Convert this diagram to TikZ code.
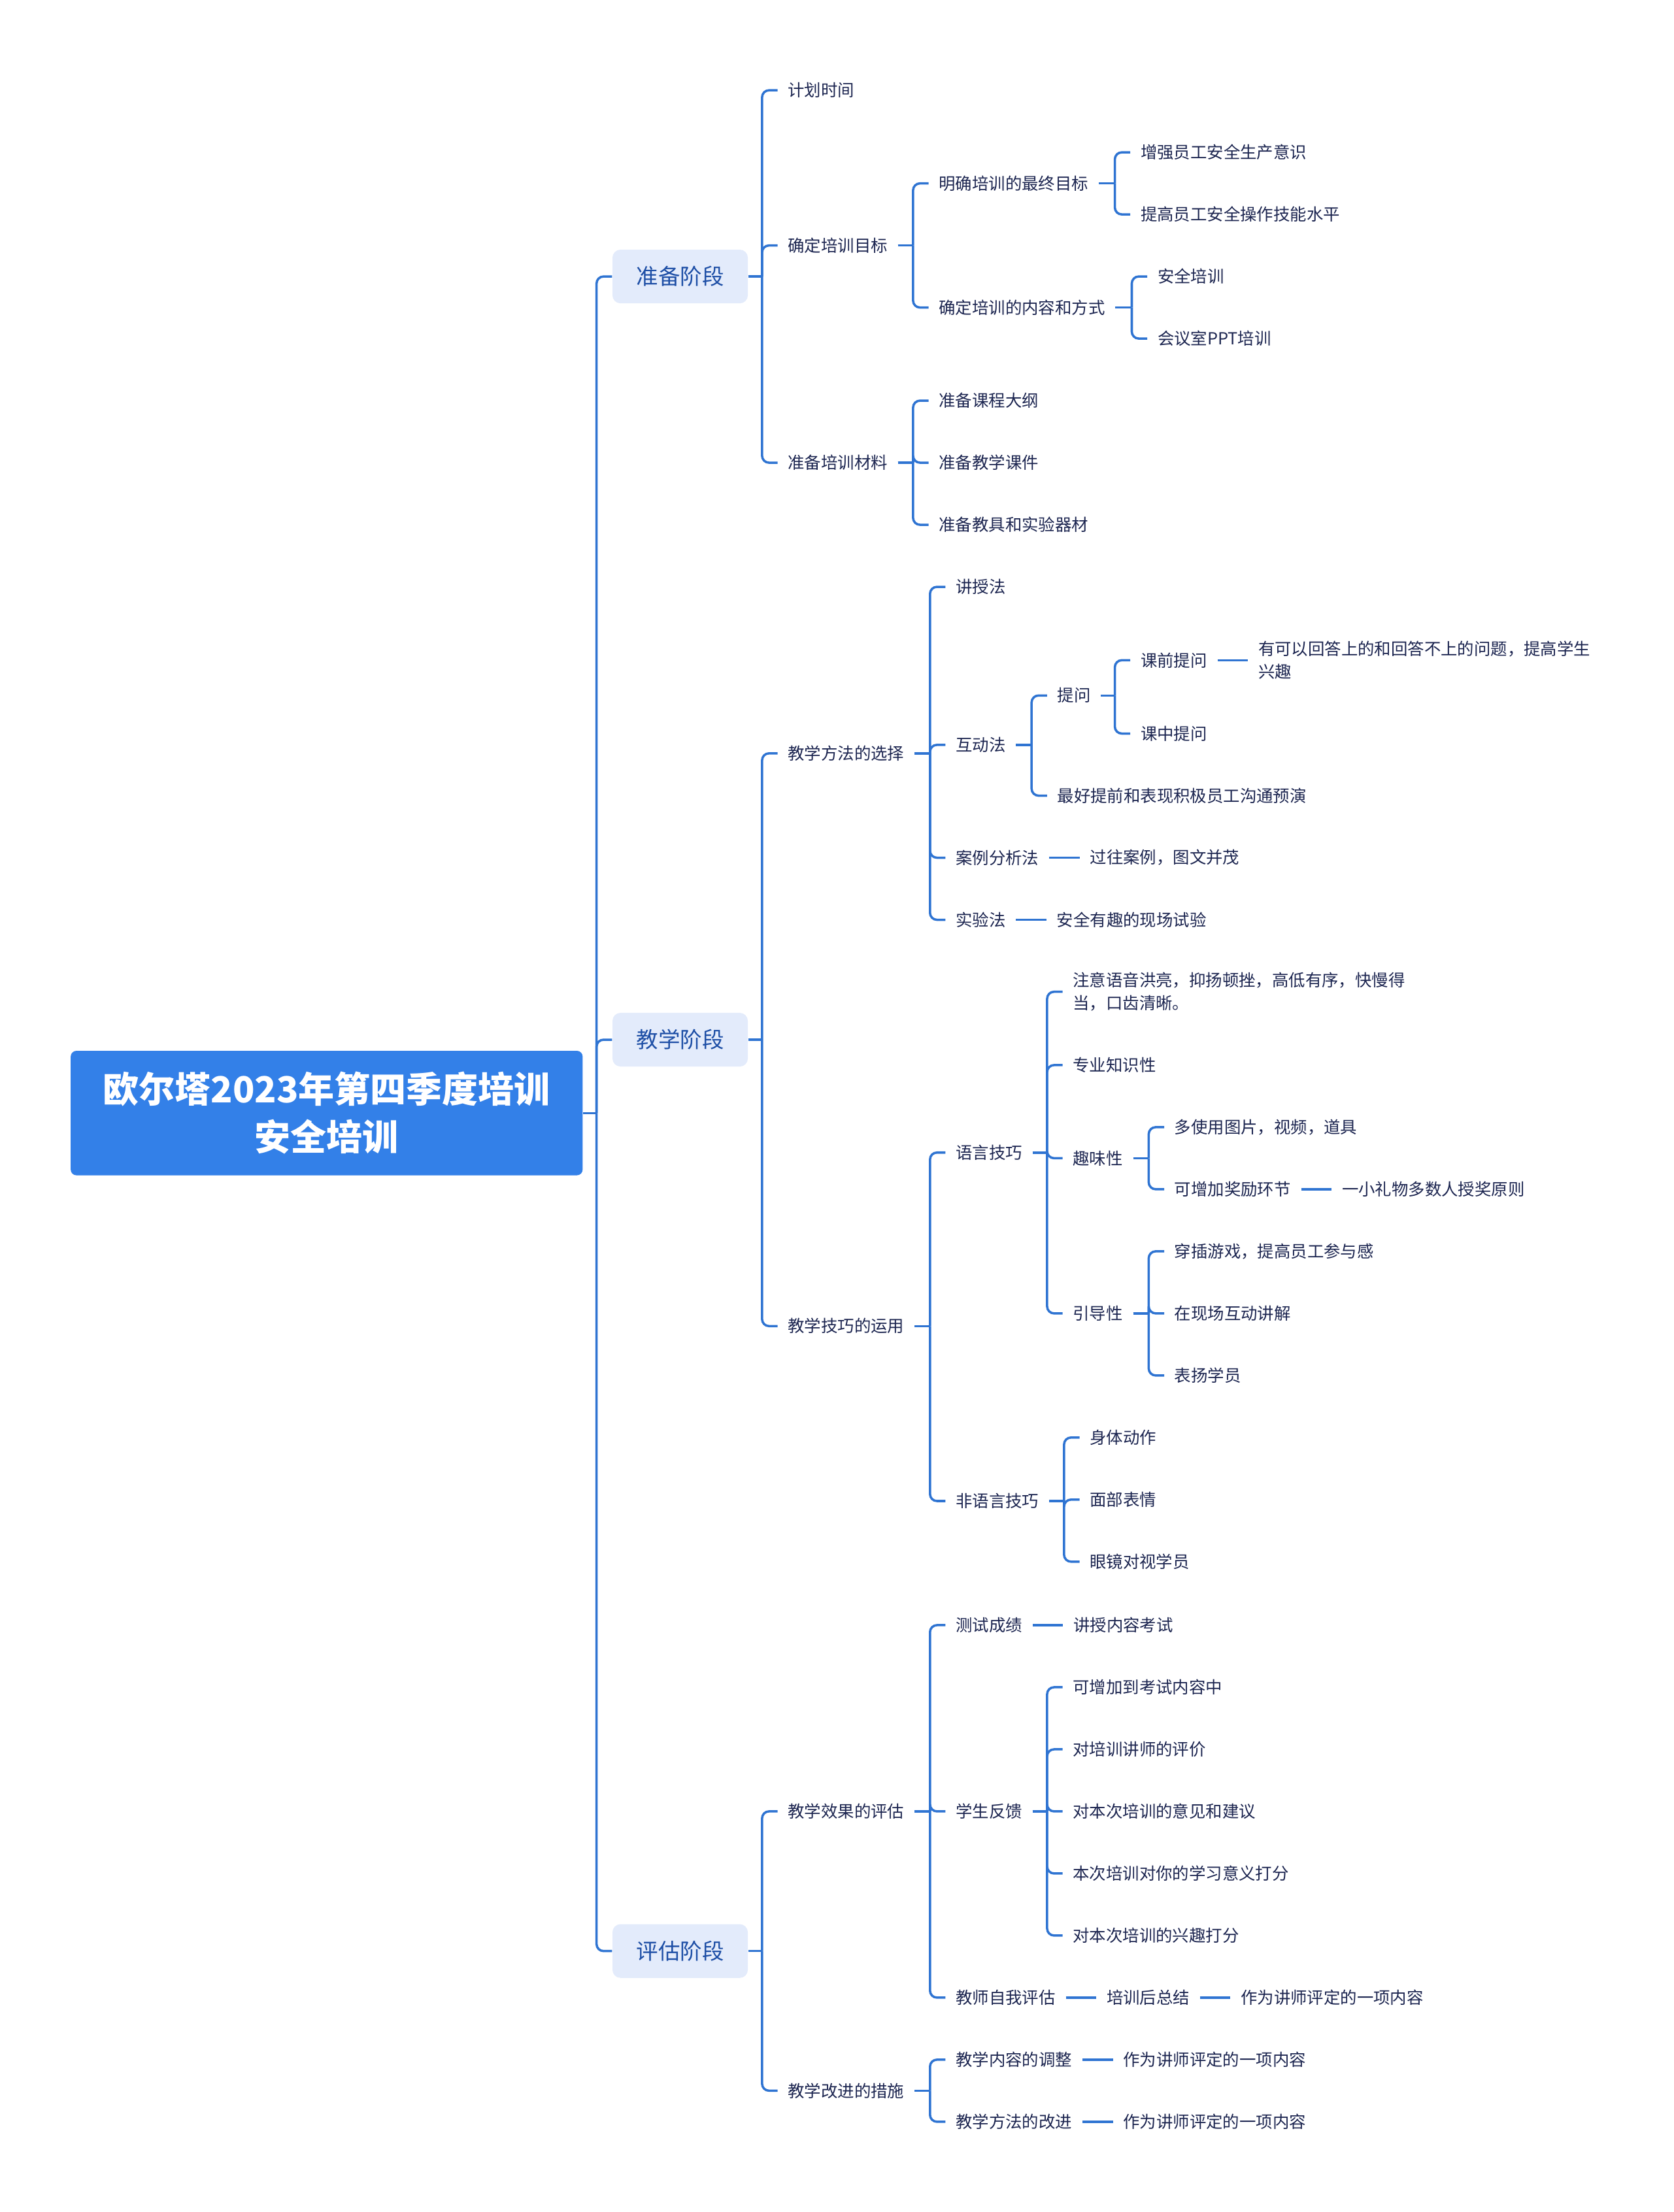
\documentclass[tikz,border=0pt]{standalone}
\usepackage{fontspec}
\setmainfont{Noto Sans CJK SC}
\usetikzlibrary{positioning}

\definecolor{rootblue}{HTML}{3380E8}
\definecolor{stagefill}{HTML}{E3EBFB}
\definecolor{stagetext}{HTML}{1E4FA6}
\definecolor{itemtext}{HTML}{1C2550}
\definecolor{linkblue}{HTML}{2F74D2}

% parent -> list of children, elbow joints on a shared spine
\newcommand\fork[2]{%
  \foreach \c in {#2}{%
    \path (#1.east -| \c.west) ++(-6.7pt,0) coordinate (j);
    \draw[link] (#1.east) -- (j);
    \draw[link, rounded corners=3pt] (j) |- (\c.west);
  }}

\begin{document}
\begin{tikzpicture}[
    x=0.6119pt, y=-0.6119pt,
    root/.style={fill=rootblue, text=white, rounded corners=2.5pt, align=center,
        minimum width=222pt, minimum height=54pt,
        font=\fontsize{15.6pt}{20.8pt}\selectfont\bfseries},
    stage/.style={fill=stagefill, text=stagetext, rounded corners=3.5pt,
        minimum width=58.7pt, minimum height=23.3pt,
        font=\fontsize{9.5pt}{12pt}\selectfont},
    item/.style={anchor=west, text=itemtext, inner xsep=4.3pt, inner ysep=2pt, align=left,
        font=\fontsize{7.2pt}{9.8pt}\selectfont},
    link/.style={draw=linkblue, line width=1pt},
    node distance=13.2pt
]
    \useasboundingbox (0,0) rectangle (1186,1568);

    % root and stages
    \node[root] (root) at (231.5,789) {欧尔塔2023年第四季度培训\\安全培训};
    \node[stage] (s1) at (482,196) {准备阶段};
    \node[stage] (s2) at (482,737) {教学阶段};
    \node[stage] (s3) at (482,1383) {评估阶段};

    % 准备阶段
    \node[item] (a1) at (551,64) {计划时间};
    \node[item] (a2) at (551,174) {确定培训目标};
    \node[item] (a3) at (551,328) {准备培训材料};
    \node[item] (a21) at (658,130) {明确培训的最终目标};
    \node[item] (a22) at (658,218) {确定培训的内容和方式};
    \node[item] (a211) at (801,108) {增强员工安全生产意识};
    \node[item] (a212) at (801,152) {提高员工安全操作技能水平};
    \node[item] (a221) at (813,196) {安全培训};
    \node[item] (a222) at (813,240) {会议室PPT培训};
    \node[item] (a31) at (658,284) {准备课程大纲};
    \node[item] (a32) at (658,328) {准备教学课件};
    \node[item] (a33) at (658,372) {准备教具和实验器材};

    % 教学阶段
    \node[item] (b1) at (551,534) {教学方法的选择};
    \node[item] (b2) at (551,940) {教学技巧的运用};
    \node[item] (b11) at (670,416) {讲授法};
    \node[item] (b12) at (670,528) {互动法};
    \node[item] (b13) at (670,608) {案例分析法};
    \node[item] (b14) at (670,652) {实验法};
    \node[item] (b121) at (742,493) {提问};
    \node[item] (b122) at (742,564) {最好提前和表现积极员工沟通预演};
    \node[item] (b1211) at (801,468) {课前提问};
    \node[item] (b1212) at (801,520) {课中提问};
    \node[item, right=of b1211] (b1211a) {有可以回答上的和回答不上的问题，提高学生\\兴趣};
    \node[item, right=of b13] (b131) {过往案例，图文并茂};
    \node[item, right=of b14] (b141) {安全有趣的现场试验};
    \node[item] (b21) at (670,817) {语言技巧};
    \node[item] (b22) at (670,1064) {非语言技巧};
    \node[item] (b211) at (753,703) {注意语音洪亮，抑扬顿挫，高低有序，快慢得\\当，口齿清晰。};
    \node[item] (b212) at (753,755) {专业知识性};
    \node[item] (b213) at (753,821) {趣味性};
    \node[item] (b214) at (753,931) {引导性};
    \node[item] (b2131) at (825,799) {多使用图片，视频，道具};
    \node[item] (b2132) at (825,843) {可增加奖励环节};
    \node[item, right=of b2132] (b2132a) {一小礼物多数人授奖原则};
    \node[item] (b2141) at (825,887) {穿插游戏，提高员工参与感};
    \node[item] (b2142) at (825,931) {在现场互动讲解};
    \node[item] (b2143) at (825,975) {表扬学员};
    \node[item] (b221) at (765,1019) {身体动作};
    \node[item] (b222) at (765,1063) {面部表情};
    \node[item] (b223) at (765,1107) {眼镜对视学员};

    % 评估阶段
    \node[item] (c1) at (551,1284) {教学效果的评估};
    \node[item] (c2) at (551,1482) {教学改进的措施};
    \node[item] (c11) at (670,1152) {测试成绩};
    \node[item] (c12) at (670,1284) {学生反馈};
    \node[item] (c13) at (670,1416) {教师自我评估};
    \node[item, right=of c11] (c111) {讲授内容考试};
    \node[item] (c121) at (753,1196) {可增加到考试内容中};
    \node[item] (c122) at (753,1240) {对培训讲师的评价};
    \node[item] (c123) at (753,1284) {对本次培训的意见和建议};
    \node[item] (c124) at (753,1328) {本次培训对你的学习意义打分};
    \node[item] (c125) at (753,1372) {对本次培训的兴趣打分};
    \node[item, right=of c13] (c131) {培训后总结};
    \node[item, right=of c131] (c132) {作为讲师评定的一项内容};
    \node[item] (c21) at (670,1460) {教学内容的调整};
    \node[item] (c22) at (670,1504) {教学方法的改进};
    \node[item, right=of c21] (c211) {作为讲师评定的一项内容};
    \node[item, right=of c22] (c221) {作为讲师评定的一项内容};

    % connectors
    \fork{root}{s1,s2,s3}
    \fork{s1}{a1,a2,a3}
    \fork{a2}{a21,a22}
    \fork{a21}{a211,a212}
    \fork{a22}{a221,a222}
    \fork{a3}{a31,a32,a33}
    \fork{s2}{b1,b2}
    \fork{b1}{b11,b12,b13,b14}
    \fork{b12}{b121,b122}
    \fork{b121}{b1211,b1212}
    \fork{b2}{b21,b22}
    \fork{b21}{b211,b212,b213,b214}
    \fork{b213}{b2131,b2132}
    \fork{b214}{b2141,b2142,b2143}
    \fork{b22}{b221,b222,b223}
    \fork{s3}{c1,c2}
    \fork{c1}{c11,c12,c13}
    \fork{c12}{c121,c122,c123,c124,c125}
    \fork{c2}{c21,c22}
    \foreach \a/\b in {b1211/b1211a, b13/b131, b14/b141, b2132/b2132a,
        c11/c111, c13/c131, c131/c132, c21/c211, c22/c221}
        \draw[link] (\a) -- (\b);
\end{tikzpicture}
\end{document}
